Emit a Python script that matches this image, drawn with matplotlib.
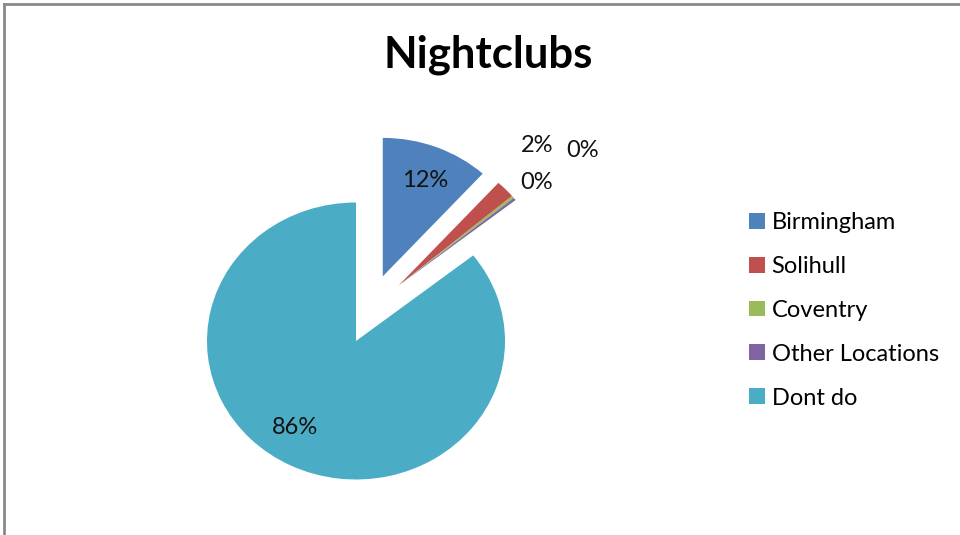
import matplotlib
matplotlib.use("Agg")
import matplotlib.pyplot as plt
from matplotlib.lines import Line2D
from matplotlib.patches import Patch
import numpy as np

# Survey shares for nightclub visits by location
categories = ["Birmingham", "Solihull", "Coventry", "Other Locations", "Dont do"]
shares = [11.7, 2.1, 0.3, 0.3, 85.6]
colors = ["#4F81BD", "#C0504D", "#9BBB59", "#8064A2", "#4BACC6"]
explode = [0.5, 0.5, 0.5, 0.5, 0.0]

# Pulled-out offsets of the thin slices (data units, overriding radial explode)
thin_offset = {1: (0.285, 0.40), 2: (0.285, 0.40), 3: (0.285, 0.40)}

# Label anchor positions in pie data units (one per slice)
label_pos = [(0.463, 1.162), (1.215, 1.408), (1.523, 1.375), (1.215, 1.141), (-0.410, -0.621)]

W, H, DPI = 960, 535, 100
fig = plt.figure(figsize=(W / DPI, H / DPI), dpi=DPI)
fig.patch.set_facecolor("white")

font = ["Lato", "DejaVu Sans"]

# Pie axes: unit radius spans 149 px across and 138.5 px up/down
cx, cy = 356, H - 341
rx, ry = 149, 138.5
xl, xr, yb, yt = -1.4, 2.0, -1.3, 1.6
ax = fig.add_axes([(cx + xl * rx) / W, (cy + yb * ry) / H,
                   (xr - xl) * rx / W, (yt - yb) * ry / H])

wedges, _ = ax.pie(shares, colors=colors, explode=explode, startangle=90,
                   counterclock=False, wedgeprops=dict(linewidth=0))
for i, off in thin_offset.items():
    wedges[i].set_center(off)
ax.set_aspect("auto")
ax.set_xlim(xl, xr)
ax.set_ylim(yb, yt)
ax.axis("off")

for val, (x, y) in zip(shares, label_pos):
    ax.text(x, y, f"{val:.0f}%", ha="center", va="center", fontsize=17,
            family=font, color="#111111")

fig.text(488 / W, 1 - 55 / H, "Nightclubs", ha="center", va="center",
         fontsize=31.5, fontweight="bold", family=font, color="black")

handles = [Patch(facecolor=c, edgecolor="none") for c in colors]
leg = fig.legend(handles, categories, loc="upper left",
                 bbox_to_anchor=(749 / W, 1 - 212 / H),
                 frameon=False, prop=dict(family=font, size=17),
                 handlelength=0.66, handleheight=0.66, handletextpad=0.3,
                 labelspacing=0.97, borderaxespad=0, borderpad=0)

# Chart-area border along the top and left
border = dict(color="#8a8a8a", linewidth=2, transform=None)
fig.add_artist(Line2D([4, W], [H - 4, H - 4], **border))
fig.add_artist(Line2D([4, 4], [0, H - 4], **border))

fig.savefig("out.png", dpi=DPI, facecolor="white")
